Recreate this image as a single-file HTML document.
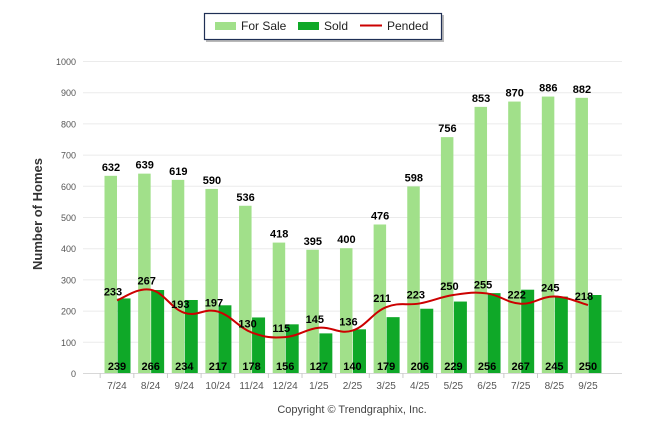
<!DOCTYPE html>
<html><head><meta charset="utf-8">
<style>
html,body{margin:0;padding:0;background:#fff;}
svg{display:block;font-family:"Liberation Sans",Arial,sans-serif;}
</style></head>
<body>
<svg id="chart" width="646" height="434" viewBox="0 0 646 434">
  <g>
    <rect x="206" y="15" width="238" height="27" fill="#8a8a8a" opacity="0.6"/>
    <rect x="204.5" y="13.5" width="237" height="26" fill="#fff" stroke="#1f2f55" stroke-width="1.2"/>
    <g>
      <rect x="215" y="22" width="21" height="8" fill="#a1e08a"/>
      <text x="241" y="30" font-size="12" fill="#222">For Sale</text>
    </g>
    <g>
      <rect x="298" y="22" width="21" height="8" fill="#0fa828"/>
      <text x="324" y="30" font-size="12" fill="#222">Sold</text>
    </g>
    <g>
      <line x1="360" y1="25.5" x2="382" y2="25.5" stroke="#cc0000" stroke-width="2"/>
      <text x="387" y="30" font-size="12" fill="#222">Pended</text>
    </g>
  </g>
  <text transform="translate(42,214) rotate(-90)" text-anchor="middle" font-size="13" font-weight="bold" fill="#333">Number of Homes</text>
  <text x="352" y="413" text-anchor="middle" font-size="11" fill="#444">Copyright © Trendgraphix, Inc.</text>
  <g id="grid"></g><g id="bars"></g><g id="line"></g><g id="labels"></g>
</svg>
<script>
const categories = ["7/24","8/24","9/24","10/24","11/24","12/24","1/25","2/25","3/25","4/25","5/25","6/25","7/25","8/25","9/25"];
const forSale = [632,639,619,590,536,418,395,400,476,598,756,853,870,886,882];
const sold = [239,266,234,217,178,156,127,140,179,206,229,256,267,245,250];
const pended = [233,267,193,197,130,115,145,136,211,223,250,255,222,245,218];
const yTicks = [0,100,200,300,400,500,600,700,800,900,1000];

const NS="http://www.w3.org/2000/svg";
const y0=373, yTop=61, xLeft=83, xRight=622;
const ys = v => y0 - (v/1000)*(y0-yTop);
const xs = i => 117 + i*33.64;
function mk(tag, attrs, parent){const e=document.createElementNS(NS,tag);for(const k in attrs)e.setAttribute(k,attrs[k]);parent.appendChild(e);return e;}
const grid=document.getElementById('grid'), bars=document.getElementById('bars'), line=document.getElementById('line'), labels=document.getElementById('labels');

yTicks.forEach(t=>{
  const l=mk('line',{x1:xLeft,x2:xRight,y1:ys(t)+0.5,y2:ys(t)+0.5,stroke:t===0?'#d8d8d8':'#ebebeb','stroke-width':1},grid);
  
  
  const tx=mk('text',{x:76,y:ys(t)+4,'text-anchor':'end','font-size':9,fill:'#555'},grid);
  tx.textContent=t;
  
  
});
categories.forEach((c,i)=>{
  const cx=xs(i);
  const tk=mk('line',{x1:cx-33.64/2,x2:cx-33.64/2,y1:y0,y2:y0+5,stroke:'#ccc'},grid);
  
  
  const tx=mk('text',{x:cx,y:389,'text-anchor':'middle','font-size':10,fill:'#555'},grid);
  tx.textContent=c;
  
  
  const b1=mk('rect',{x:cx-12.5,y:ys(forSale[i]),width:12.5,height:y0-ys(forSale[i]),fill:'#a1e08a'},bars);
  
  
  const b2=mk('rect',{x:cx+0.5,y:ys(sold[i]),width:13,height:y0-ys(sold[i]),fill:'#0fa828'},bars);
  
  
  const l1=mk('text',{x:cx-6,y:ys(forSale[i])-5,'text-anchor':'middle','font-size':11,'font-weight':'bold',fill:'#000'},labels);
  l1.textContent=forSale[i];
  
  
  const l2=mk('text',{x:cx,y:370,'text-anchor':'middle','font-size':11,'font-weight':'bold',fill:'#000'},labels);
  l2.textContent=sold[i];
  
  
  const l3=mk('text',{x:cx-4,y:ys(pended[i])-5,'text-anchor':'middle','font-size':11,'font-weight':'bold',fill:'#000'},labels);
  l3.textContent=pended[i];
  
  
});
// smooth line (catmull-rom)
const pts=pended.map((v,i)=>[xs(i),ys(v)]);
let d=`M${pts[0][0]},${pts[0][1]}`;
for(let i=0;i<pts.length-1;i++){
  const p0=pts[Math.max(0,i-1)],p1=pts[i],p2=pts[i+1],p3=pts[Math.min(pts.length-1,i+2)];
  const t=0.2;
  const c1=[p1[0]+(p2[0]-p0[0])*t,p1[1]+(p2[1]-p0[1])*t];
  const c2=[p2[0]-(p3[0]-p1[0])*t,p2[1]-(p3[1]-p1[1])*t];
  d+=` C${c1[0]},${c1[1]} ${c2[0]},${c2[1]} ${p2[0]},${p2[1]}`;
}
const pl=mk('path',{d:d,fill:'none',stroke:'#cc0000','stroke-width':2},line);


</script>
</body></html>
